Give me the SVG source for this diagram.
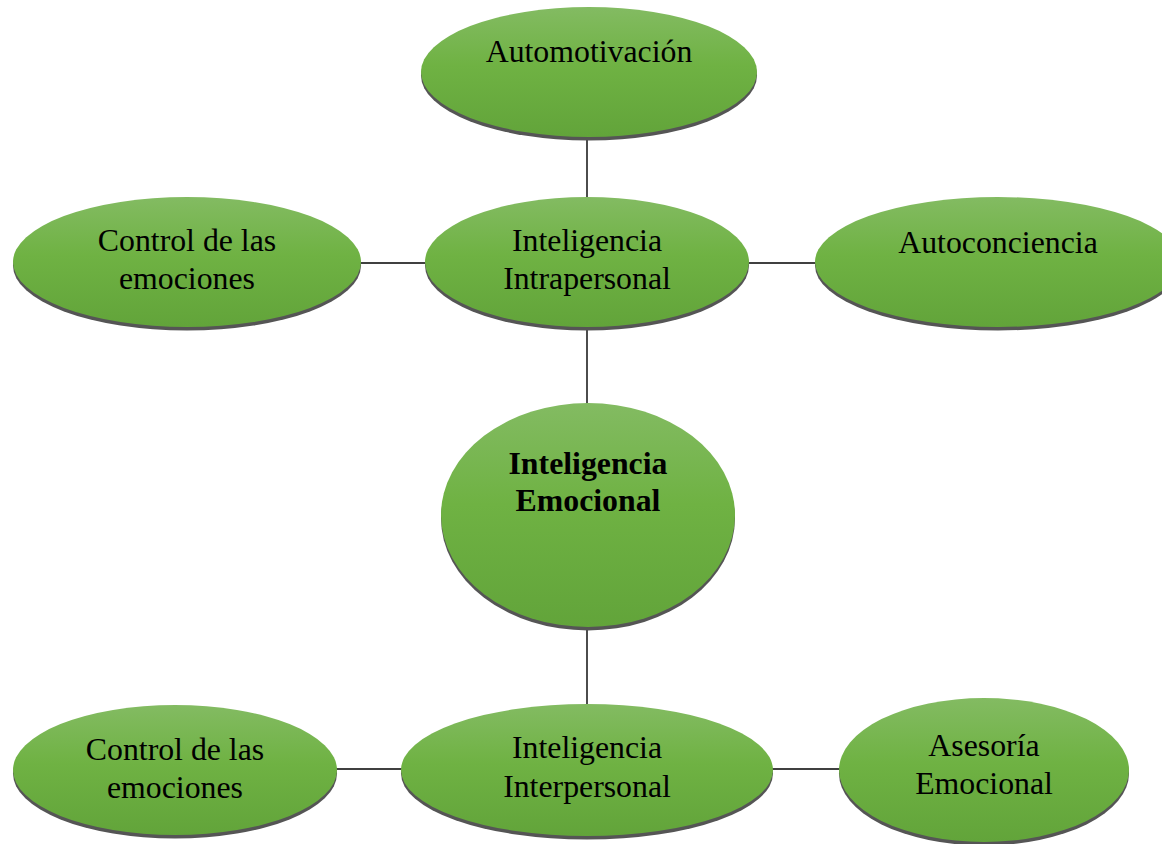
<svg xmlns="http://www.w3.org/2000/svg" width="1162" height="844" viewBox="0 0 1162 844">
<defs>
<linearGradient id="g" x1="0" y1="0" x2="0" y2="1">
<stop offset="0" stop-color="#83bb62"/>
<stop offset="0.45" stop-color="#6fb243"/>
<stop offset="1" stop-color="#62a43a"/>
</linearGradient>
</defs>
<style>
.sh{fill:#555}
.el{fill:url(#g)}
.t{font-family:"Liberation Serif","Times New Roman",serif;font-size:31.8px;fill:#000;text-anchor:middle}
.b{font-weight:bold}
.c{stroke:#000;stroke-width:1.4;fill:none}
</style>
<rect width="1162" height="844" fill="#fff"/>
<g id="connectors">
<line class="c" x1="587" y1="138" x2="587" y2="198"/>
<line class="c" x1="587" y1="328" x2="587" y2="404"/>
<line class="c" x1="587" y1="627" x2="587" y2="704"/>
<line class="c" x1="360" y1="263" x2="426" y2="263"/>
<line class="c" x1="748" y1="263" x2="816" y2="263"/>
<line class="c" x1="336" y1="769" x2="402" y2="769"/>
<line class="c" x1="772" y1="769" x2="840" y2="769"/>
</g>
<g id="automotivacion">
<ellipse class="sh" cx="589" cy="75.5" rx="168" ry="65"/>
<ellipse class="el" cx="589" cy="72" rx="168" ry="65"/>
<text class="t" x="589" y="62">Automotivación</text>
</g>
<g id="control-top">
<ellipse class="sh" cx="187" cy="265.5" rx="174" ry="65"/>
<ellipse class="el" cx="187" cy="262" rx="174" ry="65"/>
<text class="t" x="187" y="251">Control de las</text>
<text class="t" x="187" y="289">emociones</text>
</g>
<g id="intrapersonal">
<ellipse class="sh" cx="587" cy="265.5" rx="162" ry="65"/>
<ellipse class="el" cx="587" cy="262" rx="162" ry="65"/>
<text class="t" x="587" y="251">Inteligencia</text>
<text class="t" x="587" y="289">Intrapersonal</text>
</g>
<g id="autoconciencia">
<ellipse class="sh" cx="998" cy="265.5" rx="183" ry="65"/>
<ellipse class="el" cx="998" cy="262" rx="183" ry="65"/>
<text class="t" x="998" y="253">Autoconciencia</text>
</g>
<g id="emocional">
<ellipse class="sh" cx="588" cy="518.5" rx="147" ry="112"/>
<ellipse class="el" cx="588" cy="515" rx="147" ry="112"/>
<text class="t b" x="588" y="474">Inteligencia</text>
<text class="t b" x="588" y="511">Emocional</text>
</g>
<g id="control-bottom">
<ellipse class="sh" cx="175" cy="773.5" rx="162" ry="65"/>
<ellipse class="el" cx="175" cy="770" rx="162" ry="65"/>
<text class="t" x="175" y="760">Control de las</text>
<text class="t" x="175" y="798">emociones</text>
</g>
<g id="interpersonal">
<ellipse class="sh" cx="587" cy="773.5" rx="186" ry="66"/>
<ellipse class="el" cx="587" cy="770" rx="186" ry="66"/>
<text class="t" x="587" y="758">Inteligencia</text>
<text class="t" x="587" y="797">Interpersonal</text>
</g>
<g id="asesoria">
<ellipse class="sh" cx="984" cy="773.5" rx="145" ry="72"/>
<ellipse class="el" cx="984" cy="770" rx="145" ry="72"/>
<text class="t" x="984" y="756">Asesoría</text>
<text class="t" x="984" y="794">Emocional</text>
</g>
</svg>
